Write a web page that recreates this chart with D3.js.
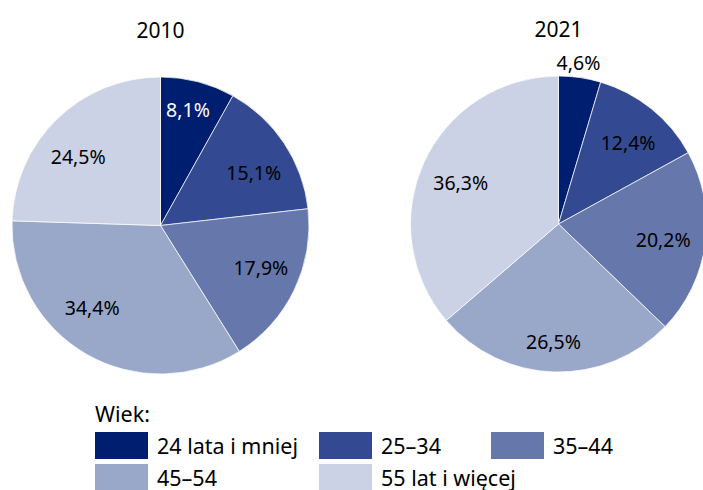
<!DOCTYPE html>
<html><head><meta charset="utf-8">
<script src="https://cdn.jsdelivr.net/npm/d3@7"></script>
<style>
html,body{margin:0;padding:0;background:#fff;}
svg text{font-family:"Noto Sans",sans-serif;}
</style></head>
<body><svg id="c" width="703" height="490"></svg>
<script>
const categories = ["24 lata i mniej", "25–34", "35–44", "45–54", "55 lat i więcej"];
const years = ["2010", "2021"];
const values2010 = [8.1, 15.1, 17.9, 34.4, 24.5];
const values2021 = [4.6, 12.4, 20.2, 26.5, 36.3];
const colors = ["#001e6f", "#334a92", "#6677ab", "#99a7c9", "#ccd2e5"];
const legendTitle = "Wiek:";

const svg = d3.select("#c");
const fmt = v => d3.format(".1f")(v).replace(".", ",") + "%";
const color = d3.scaleOrdinal().domain(categories).range(colors);

// label placement: radius factor and angular nudge (degrees) per slice
const pies = [
  {year: years[0], values: values2010, cx: 160.5, cy: 225.5, r: 148.5, titleY: 38,
   labelFactor: [0.8, 0.72, 0.734, 0.72, 0.72], labelShift: [-1.2, 4.4, -2.8, 9.8, -6.2]},
  {year: years[1], values: values2021, cx: 558.5, cy: 224, r: 148, titleY: 37,
   labelFactor: [1.095, 0.72, 0.716, 0.80, 0.716], labelShift: [-1.2, 1.9, 1.1, 0.8, -2]}
];

const pie = d3.pie().sort(null).value(d => d.v);

pies.forEach(p => {
  const g = svg.append("g").attr("transform", `translate(${p.cx},${p.cy})`);
  const data = pie(p.values.map((v, i) => ({v, cat: categories[i], i})));
  const arc = d3.arc().innerRadius(0).outerRadius(p.r);
  g.selectAll("path").data(data).join("path")
    .attr("d", arc)
    .attr("fill", d => color(d.data.cat))
    .attr("stroke", "#fff").attr("stroke-width", 0.7);
  g.selectAll("text.lbl").data(data).join("text").attr("class", "lbl")
    .attr("transform", d => {
      const lr = p.r * p.labelFactor[d.index];
      const a = (d.startAngle + d.endAngle) / 2 + p.labelShift[d.index] * Math.PI / 180;
      return `translate(${lr * Math.sin(a)},${-lr * Math.cos(a)})`;
    })
    .attr("text-anchor", "middle").attr("dy", "0.36em")
    .attr("font-size", 19.5)
    .attr("fill", d => (d.index === 0 && p.labelFactor[0] < 1) ? "#fff" : "#000")
    .text(d => fmt(d.data.v));
  svg.append("text").attr("x", p.cx).attr("y", p.titleY)
    .attr("text-anchor", "middle").attr("font-size", 21).attr("fill", "#000")
    .text(p.year);
});

// legend
const lg = svg.append("g");
lg.append("text").attr("x", 95).attr("y", 422).attr("font-size", 21.5).text(legendTitle);
const colX = d3.scaleOrdinal().domain([0, 1, 2]).range([95, 319, 491]);
const rowY = d3.scaleOrdinal().domain([0, 1]).range([432, 464]);
categories.forEach((c, i) => {
  const col = i % 3, row = Math.floor(i / 3);
  lg.append("rect").attr("x", colX(col)).attr("y", rowY(row)).attr("width", 53).attr("height", 27).attr("fill", color(c));
  lg.append("text").attr("x", colX(col) + 62).attr("y", rowY(row) + 22).attr("font-size", 21.5).text(c);
});
</script></body></html>
